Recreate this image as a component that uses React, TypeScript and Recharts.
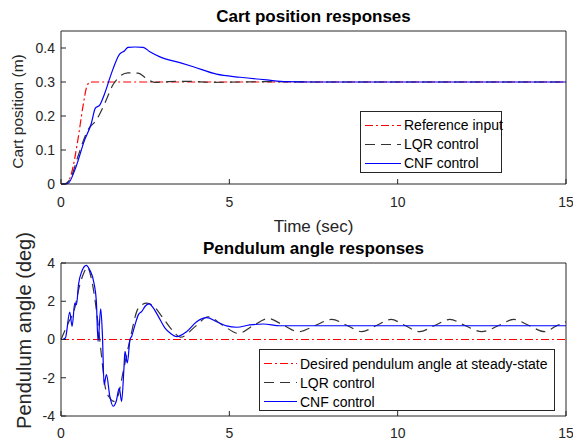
import React from 'react';
import { LineChart, Line, XAxis, YAxis, Legend } from 'recharts';

const FONT = '"Liberation Sans", Arial, Helvetica, sans-serif';
const INK = '#262626';

// axis ticks
const timeTicks = [0, 5, 10, 15];
const posTicks = [0, 0.1, 0.2, 0.3, 0.4];
const angleTicks = [-4, -2, 0, 2, 4];

// cart position (m) vs time (sec)
const posRefT = [0, 0.13, 0.31, 0.5, 0.65, 0.75, 0.85, 0.95, 15];
const posRefY = [0, 0, 0.031, 0.129, 0.227, 0.281, 0.299, 0.3, 0.3];

const posLqrT = [0, 0.1, 0.3, 0.5, 0.8, 1.05, 1.3, 1.54, 1.69, 1.99, 2.29, 2.53, 2.78, 3.2, 3.8, 4.5, 5.3, 6.2, 7.5, 9, 11, 13, 15];
const posLqrY = [0, 0, 0.02, 0.08, 0.159, 0.188, 0.237, 0.291, 0.311, 0.327, 0.326, 0.311, 0.299, 0.301, 0.302, 0.299, 0.3, 0.301, 0.3, 0.3, 0.3, 0.3, 0.3];

const posCnfT = [0, 0.21, 0.41, 0.7, 0.9, 1.02, 1.15, 1.3, 1.5, 1.74, 1.89, 1.99, 2.2, 2.44, 2.64, 2.94, 3.53, 3.93, 4.62, 5.32, 6.11, 6.7, 7.5, 9, 12, 15];
const posCnfY = [0, 0.002, 0.041, 0.129, 0.178, 0.223, 0.232, 0.267, 0.326, 0.382, 0.392, 0.402, 0.403, 0.402, 0.389, 0.374, 0.357, 0.345, 0.323, 0.314, 0.306, 0.301, 0.3, 0.3, 0.3, 0.3];

// pendulum angle (deg) vs time (sec)
const angRefT = [0, 15];
const angRefY = [0, 0];

const angLqrT = [0, 0.2, 0.41, 0.55, 0.7, 0.78, 0.9, 1.0, 1.08, 1.2, 1.32, 1.45, 1.57, 1.7, 1.85, 2.05, 2.3, 2.55, 2.75, 3.0, 3.3, 3.55, 4.0, 4.37, 4.8, 5.27, 5.7, 6.16, 6.6, 7.05, 7.55, 8.04, 8.5, 8.93, 9.37, 9.8, 10.22, 10.65, 11.1, 11.55, 12.0, 12.5, 13.0, 13.45, 13.9, 14.37, 14.7, 15];
const angLqrY = [0, 0.8, 1.65, 2.8, 3.57, 3.8, 3.2, 2.2, 1.12, -0.8, -2.54, -3.06, -3.24, -2.9, -1.66, 0, 1.65, 1.9, 1.75, 1.2, 0.5, 0.12, 0.7, 1.19, 0.75, 0.32, 0.72, 1.1, 0.75, 0.41, 0.73, 1.05, 0.73, 0.41, 0.73, 1.05, 0.73, 0.41, 0.73, 1.05, 0.73, 0.41, 0.73, 1.05, 0.73, 0.41, 0.7, 0.93];

const angCnfT = [0, 0.03, 0.13, 0.26, 0.33, 0.41, 0.46, 0.52, 0.62, 0.75, 0.85, 0.98, 1.05, 1.1, 1.18, 1.23, 1.28, 1.35, 1.45, 1.55, 1.64, 1.73, 1.8, 1.87, 1.9, 1.97, 2.05, 2.1, 2.2, 2.3, 2.4, 2.5, 2.62, 2.74, 2.89, 3.09, 3.24, 3.44, 3.73, 4.03, 4.33, 4.62, 4.92, 5.22, 5.61, 6.01, 6.5, 8, 11, 15];
const angCnfY = [0, 0, 0.08, 1.43, 0.69, 1.9, 1.82, 2.87, 3.57, 3.88, 3.65, 2.95, 2.0, -0.1, 1.6, 0.25, -2.36, -1.84, -2.97, -3.49, -3.23, -2.54, -3.24, -1.5, -0.62, -1.23, 0, 0.17, 0.78, 1.3, 1.47, 1.74, 1.86, 1.65, 1.21, 0.6, 0.34, 0.15, 0.41, 0.93, 1.14, 0.93, 0.71, 0.64, 0.76, 0.81, 0.72, 0.72, 0.72, 0.72];

const pts = (ts: number[], ys: number[]) => ts.map((t, i) => ({ t, v: ys[i] }));

interface Series {
  name: string;
  data: { t: number; v: number }[];
  color: string;
  dash?: string;
}

const posSeries: Series[] = [
  { name: 'Reference input', data: pts(posRefT, posRefY), color: '#ff0000', dash: '8 3 2 3' },
  { name: 'LQR control', data: pts(posLqrT, posLqrY), color: '#333333', dash: '10 6' },
  { name: 'CNF control', data: pts(posCnfT, posCnfY), color: '#0000ff' },
];

const angSeries: Series[] = [
  { name: 'Desired pendulum angle at steady-state', data: pts(angRefT, angRefY), color: '#ff0000', dash: '8 3 2 3' },
  { name: 'LQR control', data: pts(angLqrT, angLqrY), color: '#333333', dash: '10 6' },
  { name: 'CNF control', data: pts(angCnfT, angCnfY), color: '#0000ff' },
];

const LegendBox = ({ items, width, sample }: { items: Series[]; width: number; sample: number }) => (
  <div
    style={{
      width,
      height: 62,
      boxSizing: 'border-box',
      border: `1px solid ${INK}`,
      background: '#fff',
      paddingTop: 4,
    }}
  >
    {items.map((s) => (
      <div key={s.name} style={{ display: 'flex', alignItems: 'center', height: 19 }}>
        <svg width={sample + 7} height={19} style={{ flex: 'none', display: 'block' }}>
          <path
            d={`M4,9.5 H${4 + sample}`}
            fill="none"
            style={{ stroke: s.color, strokeWidth: 1.2, strokeDasharray: s.dash ?? 'none' }}
          />
        </svg>
        <span style={{ fontSize: 14, color: '#000', fontFamily: FONT, whiteSpace: 'nowrap' }}>{s.name}</span>
      </div>
    ))}
  </div>
);

// rotated y-axis title; base = baseline offset from the axis' left edge
const yLabel = (text: string, base: number, size: number, shift: number) => (props: any) => {
  const vb = props.viewBox;
  const x = vb.x + base;
  const y = vb.y + vb.height / 2 + shift;
  return (
    <text x={x} y={y} transform={`rotate(-90 ${x} ${y})`} textAnchor="middle" fontSize={size} fill={INK} fontFamily={FONT}>
      {text}
    </text>
  );
};

const tickStyle = { fill: INK, fontSize: 14 };
const blank = () => '';

const renderLines = (list: Series[]) =>
  list.map((s) => (
    <Line
      key={s.name}
      xAxisId="b"
      yAxisId="l"
      data={s.data}
      dataKey="v"
      type="monotone"
      stroke={s.color}
      strokeWidth={1.2}
      strokeDasharray={s.dash}
      dot={false}
      activeDot={false}
      legendType="none"
      isAnimationActive={false}
    />
  ));

export default function App() {
  return (
    <div style={{ position: 'absolute', left: 0, top: 0, width: 573, height: 442, background: '#fff', fontFamily: FONT }}>
      <div style={{ position: 'absolute', left: 0, top: 0 }}>
        <LineChart width={573} height={240} margin={{ top: 30, right: 6, bottom: 0, left: 0 }}>
          <XAxis
            xAxisId="b"
            type="number"
            dataKey="t"
            domain={[0, 15]}
            ticks={timeTicks}
            tickSize={-5}
            tickMargin={18}
            height={56}
            stroke={INK}
            tick={tickStyle}
            label={{ value: 'Time (sec)', position: 'insideBottom', offset: 8, fontSize: 17, fill: INK }}
          />
          <XAxis
            xAxisId="t"
            orientation="top"
            type="number"
            dataKey="t"
            domain={[0, 15]}
            ticks={timeTicks}
            tickSize={-5}
            tickFormatter={blank}
            height={1}
            stroke={INK}
            label={{ value: 'Cart position responses', position: 'top', offset: 8, fontSize: 17, fontWeight: 'bold', fill: '#000' }}
          />
          <YAxis
            yAxisId="l"
            type="number"
            domain={[0, 0.45]}
            ticks={posTicks}
            tickSize={-5}
            tickMargin={11}
            width={61}
            stroke={INK}
            tick={tickStyle}
            label={{ content: yLabel('Cart position (m)', 22.5, 15.5, 4) }}
          />
          <YAxis yAxisId="r" orientation="right" type="number" domain={[0, 0.45]} ticks={posTicks} tickSize={-5} tickFormatter={blank} width={1} stroke={INK} />
          <Legend
            layout="horizontal"
            verticalAlign="middle"
            align="center"
            wrapperStyle={{ left: 360, top: 110.5, width: 142, height: 62 }}
            content={() => <LegendBox items={posSeries} width={142} sample={36} />}
          />
          {renderLines(posSeries)}
        </LineChart>
      </div>
      <div style={{ position: 'absolute', left: 0, top: 220 }}>
        <LineChart width={573} height={222} margin={{ top: 42, right: 6, bottom: 0, left: 0 }}>
          <XAxis
            xAxisId="b"
            type="number"
            dataKey="t"
            domain={[0, 15]}
            ticks={timeTicks}
            tickSize={-5}
            tickMargin={17}
            height={26}
            stroke={INK}
            tick={tickStyle}
          />
          <XAxis
            xAxisId="t"
            orientation="top"
            type="number"
            dataKey="t"
            domain={[0, 15]}
            ticks={timeTicks}
            tickSize={-5}
            tickFormatter={blank}
            height={1}
            stroke={INK}
            label={{ value: 'Pendulum angle responses', position: 'top', offset: 8, fontSize: 17, fontWeight: 'bold', fill: '#000' }}
          />
          <YAxis
            yAxisId="l"
            type="number"
            domain={[-4, 4]}
            ticks={angleTicks}
            tickSize={-5}
            tickMargin={11}
            width={61}
            stroke={INK}
            tick={tickStyle}
            label={{ content: yLabel('Pendulum angle (deg)', 31, 20, -9) }}
          />
          <YAxis yAxisId="r" orientation="right" type="number" domain={[-4, 4]} ticks={angleTicks} tickSize={-5} tickFormatter={blank} width={1} stroke={INK} />
          <Legend
            layout="horizontal"
            verticalAlign="middle"
            align="center"
            wrapperStyle={{ left: 259, top: 129.3, width: 296, height: 62 }}
            content={() => <LegendBox items={angSeries} width={296} sample={33} />}
          />
          {renderLines(angSeries)}
        </LineChart>
      </div>
    </div>
  );
}
